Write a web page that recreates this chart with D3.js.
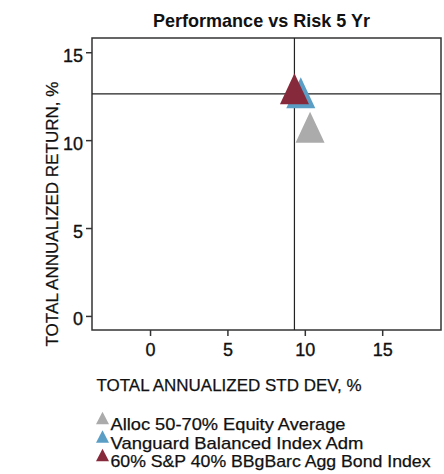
<!DOCTYPE html>
<html lang="en">
  <head>
    <meta charset="UTF-8" />
    <title>Performance vs Risk 5 Yr</title>
    <style>
      body {
        margin: 0;
        background: #fff;
        overflow: hidden;
      }
      svg {
        display: block;
        font-family: "Liberation Sans", Arial, sans-serif;
      }
      .axis path,
      .axis line {
        stroke: #333;
        stroke-width: 1.5px;
      }
      .axis text {
        font-size: 18px;
        fill: #111;
        stroke: #111;
        stroke-width: 0.35px;
      }
      .label {
        fill: #111;
        stroke: #111;
        stroke-width: 0.25px;
      }
    </style>
  </head>
  <body>
    <svg width="444" height="474"></svg>

    <script src="https://d3js.org/d3.v7.min.js"></script>
    <script>
      // series
      const names = [
        "Alloc 50-70% Equity Average",
        "Vanguard Balanced Index Adm",
        "60% S&P 40% BBgBarc Agg Bond Index",
      ];
      const stdDev = [10.34, 9.74, 9.33];
      const returns = [10.44, 12.4, 12.63];
      const colors = ["#ababab", "#5a9ec6", "#862a3b"];
      const xTicks = [0, 5, 10, 15];
      const yTicks = [0, 5, 10, 15];
      // the benchmark sets the crosshair
      const benchmark = 2;

      const svg = d3.select("svg");
      const margin = { top: 38, right: 3, bottom: 144, left: 92 };
      const width = 444 - margin.left - margin.right;
      const height = 474 - margin.top - margin.bottom;

      const x = d3.scaleLinear().domain([-3.75, 18.8]).range([0, width]);
      const y = d3.scaleLinear().domain([-0.8, 15.81]).range([height, 0]);

      const g = svg
        .append("g")
        .attr("transform", `translate(${margin.left},${margin.top})`);

      // frame
      g.append("rect")
        .attr("width", width)
        .attr("height", height)
        .attr("fill", "none")
        .attr("stroke", "#333")
        .attr("stroke-width", 1.5);

      // axes
      g.append("g")
        .attr("class", "axis")
        .attr("transform", `translate(0,${height})`)
        .call(d3.axisBottom(x).tickValues(xTicks).tickSize(6).tickPadding(7))
        .call((a) => a.select(".domain").remove());

      g.append("g")
        .attr("class", "axis")
        .call(d3.axisLeft(y).tickValues(yTicks).tickSize(6).tickPadding(3))
        .call((a) => a.select(".domain").remove())
        .selectAll("text")
        .attr("dy", "0.5em");

      // crosshair through the benchmark
      g.append("line")
        .attr("x1", x(stdDev[benchmark]))
        .attr("x2", x(stdDev[benchmark]))
        .attr("y1", 0)
        .attr("y2", height)
        .attr("stroke", "#222")
        .attr("stroke-width", 1.2);
      g.append("line")
        .attr("x1", 0)
        .attr("x2", width)
        .attr("y1", y(returns[benchmark]))
        .attr("y2", y(returns[benchmark]))
        .attr("stroke", "#222")
        .attr("stroke-width", 1.2);

      // triangle centred on its centroid
      function tri(w, h) {
        return `M0,${(-2 * h) / 3}L${w / 2},${h / 3}L${-w / 2},${h / 3}Z`;
      }

      g.append("g")
        .selectAll("path")
        .data(names)
        .join("path")
        .attr("d", tri(29, 31))
        .attr("fill", (d, i) => colors[i])
        .attr(
          "transform",
          (d, i) => `translate(${x(stdDev[i])},${y(returns[i])})`
        );

      // title
      svg
        .append("text")
        .attr("x", 153)
        .attr("y", 26.5)
        .attr("font-size", 18.5)
        .attr("font-weight", "bold")
        .attr("textLength", 217)
        .attr("lengthAdjust", "spacingAndGlyphs")
        .attr("fill", "#111")
        .text("Performance vs Risk 5 Yr");

      // axis titles
      svg
        .append("text")
        .attr("class", "label")
        .attr("x", 96.5)
        .attr("y", 390.5)
        .attr("font-size", 16.5)
        .attr("textLength", 265)
        .attr("lengthAdjust", "spacingAndGlyphs")
        .text("TOTAL ANNUALIZED STD DEV, %");

      svg
        .append("text")
        .attr("class", "label")
        .attr("transform", "translate(58,346.5) rotate(-90)")
        .attr("font-size", 16.5)
        .attr("textLength", 265)
        .attr("lengthAdjust", "spacingAndGlyphs")
        .text("TOTAL ANNUALIZED RETURN, %");

      // legend
      const legendWidths = [235, 253, 320];
      const legend = svg
        .append("g")
        .selectAll("g")
        .data(names)
        .join("g")
        .attr("transform", (d, i) => `translate(102.5,${430 + i * 18.5})`);

      legend
        .append("path")
        .attr("d", tri(13, 12.5))
        .attr("transform", "translate(0,-10)")
        .attr("fill", (d, i) => colors[i]);

      legend
        .append("text")
        .attr("class", "label")
        .attr("x", 8)
        .attr("font-size", 16.4)
        .attr("textLength", (d, i) => legendWidths[i])
        .attr("lengthAdjust", "spacingAndGlyphs")
        .text((d) => d);
    </script>
  </body>
</html>
